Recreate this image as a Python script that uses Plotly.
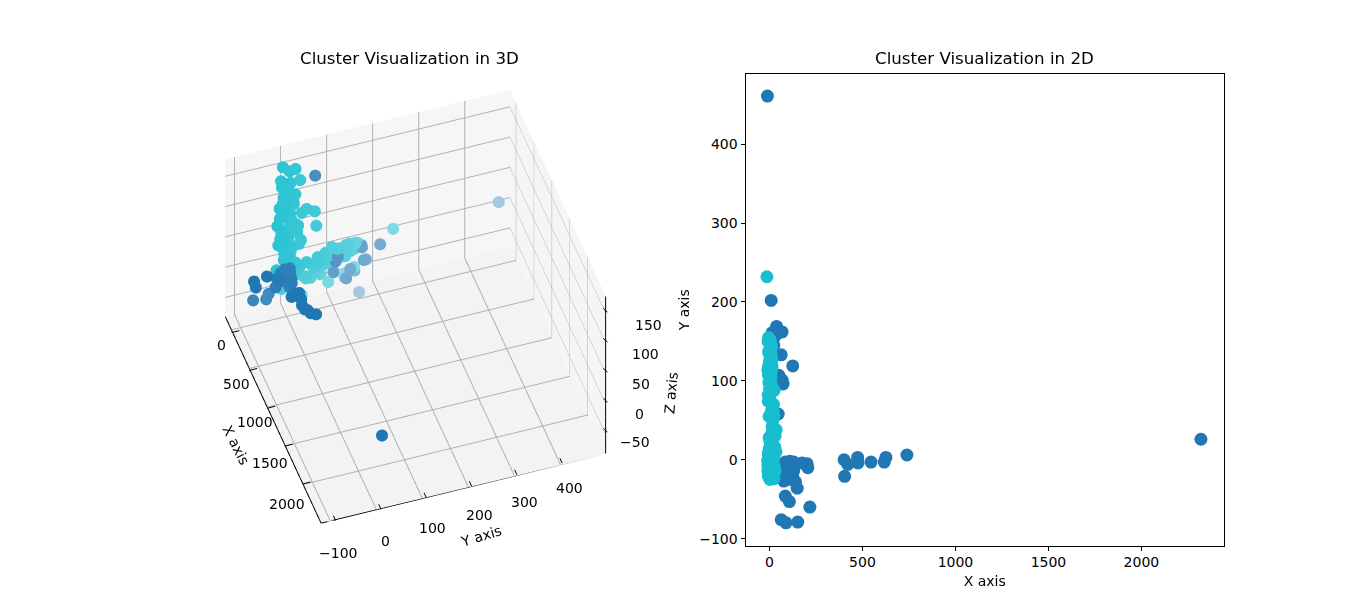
import plotly.graph_objects as go
import numpy as np

FONT = "DejaVu Sans"
blue_x = [-11,2320,9,38,14,41,68,25,23,63,125,50,68,73,47,401,421,474,476,546,626,617,739,404,
          104,90,120,135,110,95,80,202,206,175,77,100,120,140,149,85,107,217,63,89,152,
          60,75,85,95,105,115,125,130,70,90,110,130]
blue_y = [461,26,202,169,161,160,162,155,145,133,119,107,101,96,58,0,-6,3,-4,-3,3,-3,6,-21,
          -4,-8,-12,-6,-2,-15,-22,-5,-10,-4,-27,-25,-22,-28,-36,-46,-53,-60,-76,-80,-79,
          -8,-5,-3,-10,-16,-5,-20,-14,-18,-20,-8,-3]
blue_z = [20,13,1,-14,8,8,-10,-67,-30,-20,-25,3,-1,-17,146,-2,12,-10,-2,0,3,8,15,6,
          5,8,3,10,12,2,-2,0,-5,4,-4,0,-4,2,-8,-25,-30,23,-2,-29,0,
          6,3,8,0,6,8,2,4,-2,5,0,8]
teal_x = [-8,2,12,-5,5,14,-2,10,-6,8,-9,1,12,16,10,13,6,0,-3,9,3,-4,7,14,18,22,25,30,
          -14,4,6,9,-2,5,8,2,-5,3,7,-3,10,6,14,-6,4,9,12,3,-7,0,
          -6,-2,2,6,-8,-3,1,5,8,-5,0,4,9,-7,-1,3,6,-4,2,7,-9,0,5,-2,
          15,20,26,30,18,24,35,28,22,12,16,20,24,36,
          -8,10,-4,12,-9,8,0,-6,11,-2,
          -5,3,8,-2,6,-7,1,4,10,-4,7,-1,2,9,-6,5,0,-3,11,-8,
          2,7,-3,5,9,-6,0,4,-1,8,-4,6]
teal_y = [-8,6,18,-12,8,28,-4,18,-8,12,-14,2,32,42,60,63,24,2,-2,30,8,-2,18,42,50,70,88,30,
          232,110,128,141,150,128,145,125,155,152,147,138,132,120,118,108,100,96,92,86,82,78,
          -20,-15,-10,-5,0,5,10,15,20,-18,-12,-6,2,8,14,22,26,-22,-25,-16,-2,4,12,28,
          35,40,-8,-14,-20,-24,10,16,2,72,66,62,56,38,
          150,144,136,126,114,104,90,74,60,55,
          -6,-2,3,7,-9,0,-12,5,10,-4,-16,1,-7,4,-10,9,-3,-14,6,-1,
          84,92,98,104,112,118,124,130,136,88,108,142]
teal_z = [165,157,160,143,138,140,122,118,105,107,97,90,85,90,82,58,65,55,43,40,32,15,5,2,-25,-22,-38,-48,
          18,10,13,8,12,-33,-26,-40,10,6,4,0,6,-2,-2,4,0,-4,4,-2,2,-5,
          70,82,98,114,128,50,76,102,62,38,46,24,30,86,110,54,34,-2,-12,-16,20,8,-8,-5,
          -20,-24,-18,-30,-25,-26,-14,-8,-20,0,6,-4,-8,-18,
          6,9,3,-4,-2,-6,-10,-14,-18,-8,
          12,18,26,34,42,50,58,66,74,92,100,108,116,124,132,28,38,48,22,82,
          8,-3,14,2,11,-6,9,0,13,-8,5,7]

x_ticks = [0, 500, 1000, 1500, 2000]
y_ticks = [-100, 0, 100, 200, 300, 400]
z_ticks = [-50, 0, 50, 100, 150]
x_range = [-170, 2500]
y_range = [-120, 498]
z_range = [-82, 178]

ELEV, AZIM, R = np.radians(46.5), np.radians(-18.6), 2.0
eye = dict(x=float(R*np.cos(ELEV)*np.cos(AZIM)), y=float(R*np.cos(ELEV)*np.sin(AZIM)), z=float(R*np.sin(ELEV)))

def depth_colors(xs, ys, zs, rgb):
    xs, ys, zs = np.asarray(xs, float), np.asarray(ys, float), np.asarray(zs, float)
    a = np.clip(1 - 0.75*(ys+80)/541 + 0.005*np.minimum(zs, 0) + 0.0003*xs, 0.4, 1)
    return [f"rgb({int(rgb[0]*v+255*(1-v))},{int(rgb[1]*v+255*(1-v))},{int(rgb[2]*v+255*(1-v))})" for v in a]

fig = go.Figure()
B, T = (31,119,180), (23,190,207)
fig.add_trace(go.Scatter3d(x=teal_x, y=teal_y, z=teal_z, mode="markers",
    marker=dict(size=7, color=depth_colors(teal_x, teal_y, teal_z, T), line=dict(width=0))))
fig.add_trace(go.Scatter3d(x=blue_x, y=blue_y, z=blue_z, mode="markers",
    marker=dict(size=7, color=depth_colors(blue_x, blue_y, blue_z, B), line=dict(width=0))))
fig.add_trace(go.Scatter(x=blue_x, y=blue_y, mode="markers", marker=dict(size=13, color="#1f77b4"), xaxis="x", yaxis="y"))
fig.add_trace(go.Scatter(x=teal_x, y=teal_y, mode="markers", marker=dict(size=13, color="#17becf"), xaxis="x", yaxis="y"))

x0, x1 = x_range; y0, y1 = y_range; z0, z1 = z_range
lx, ly, lz = [], [], []
def seg(a, b):
    lx.extend([a[0], b[0], None]); ly.extend([a[1], b[1], None]); lz.extend([a[2], b[2], None])
seg((x0, y0, z0), (x1, y0, z0)); seg((x1, y0, z0), (x1, y1, z0)); seg((x1, y1, z0), (x1, y1, z1))
fig.add_trace(go.Scatter3d(x=lx, y=ly, z=lz, mode="lines", line=dict(color="black", width=2), hoverinfo="skip"))

def proj(x, y, z):
    nx = (x-(x0+x1)/2)/(x1-x0); ny = (y-(y0+y1)/2)/(y1-y0); nz = (z-(z0+z1)/2)/(z1-z0)
    return 418+95*nx+280*ny, 306+202*nx-71*ny-156*nz

def tick(a, b):
    (ax, ay), (bx, by) = a, b
    return dict(type="line", xref="paper", yref="paper", x0=ax/1360, y0=1-ay/612, x1=bx/1360, y1=1-by/612,
                line=dict(color="black", width=1))
shapes = []
for v in x_ticks:
    shapes.append(tick(proj(v, y0-0.018*(y1-y0), z0), proj(v, y0+0.010*(y1-y0), z0)))
for v in y_ticks:
    shapes.append(tick(proj(x1-0.012*(x1-x0), v, z0), proj(x1+0.012*(x1-x0), v, z0)))
for v in z_ticks:
    px, py = proj(x1, y1, v)
    shapes.append(tick((px-2, py-2), (px+2, py+2)))

def lab(v):
    return str(v).replace("-", "\u2212")
tf = dict(family=FONT, size=14, color="black")

def pa(text, px, py, angle=0):
    return dict(text=text, x=px/1360, y=1-py/612, xref="paper", yref="paper", showarrow=False,
                xanchor="center", yanchor="middle", textangle=angle, font=tf)

anns = [pa(lab(v), *p) for v, p in zip(x_ticks, [(221,345),(236,384),(255,422),(270,463),(287,504)])]
anns += [pa(lab(v), *p) for v, p in zip(y_ticks, [(338,553),(385,541),(432,528),(479,515),(524,502),(569,488)])]
anns += [pa(lab(v), *p) for v, p in zip(z_ticks, [(635,442),(639,414),(641,384),(645,354),(648,325)])]
anns += [pa("X axis", 236, 445, 63), pa("Y axis", 481, 536, -17), pa("Z axis", 671, 393, -85)]
for t, px in (("Cluster Visualization in 3D", 409), ("Cluster Visualization in 2D", 984)):
    a = pa(t, px, 59); a["font"] = dict(family=FONT, size=16.67, color="black"); anns.append(a)

def ax3(rng, vals, bg):
    return dict(title=dict(text=""), range=rng, tickvals=vals, showticklabels=False,
                showbackground=True, backgroundcolor=bg, gridcolor="#b0b0b0", gridwidth=2,
                showline=False, ticks="", zeroline=False, showspikes=False)

fig.update_layout(
    width=1360, height=612, autosize=False, showlegend=False, paper_bgcolor="white", plot_bgcolor="white",
    margin=dict(l=0, r=0, t=0, b=0), font=dict(family=FONT, size=14, color="black"),
    annotations=anns, shapes=shapes,
    scene=dict(domain=dict(x=[0.0985, 0.5125], y=[0.05, 0.95]),
               aspectmode="manual", aspectratio=dict(x=1.09, y=1.09, z=0.83),
               camera=dict(eye=eye, center=dict(x=0, y=0, z=0), up=dict(x=0, y=0, z=1), projection=dict(type="orthographic")),
               xaxis=ax3(x_range, x_ticks, "#f6f6f6"),
               yaxis=ax3(y_range, y_ticks, "#f5f5f5"),
               zaxis=ax3(z_range, z_ticks, "#f3f3f3")),
    xaxis=dict(domain=[745.5/1360, 1224/1360], range=[-129, 2444], tickvals=x_ticks,
               title=dict(text="X axis", standoff=6, font=dict(family=FONT, size=14)), showgrid=False, zeroline=False, showline=True, mirror=True,
               linecolor="black", linewidth=1, ticks="outside", ticklen=4, tickcolor="black", tickfont=tf),
    yaxis=dict(domain=[1-545.5/612, 1-74/612], range=[-108.7, 489], tickvals=y_ticks,
               title=dict(text="Y axis", standoff=6, font=dict(family=FONT, size=14)), showgrid=False, zeroline=False, showline=True, mirror=True,
               linecolor="black", linewidth=1, ticks="outside", ticklen=4, tickcolor="black", tickfont=tf),
)
fig.write_html("out.html", post_script="document.body.style.margin='0';", config=dict(displayModeBar=False))
